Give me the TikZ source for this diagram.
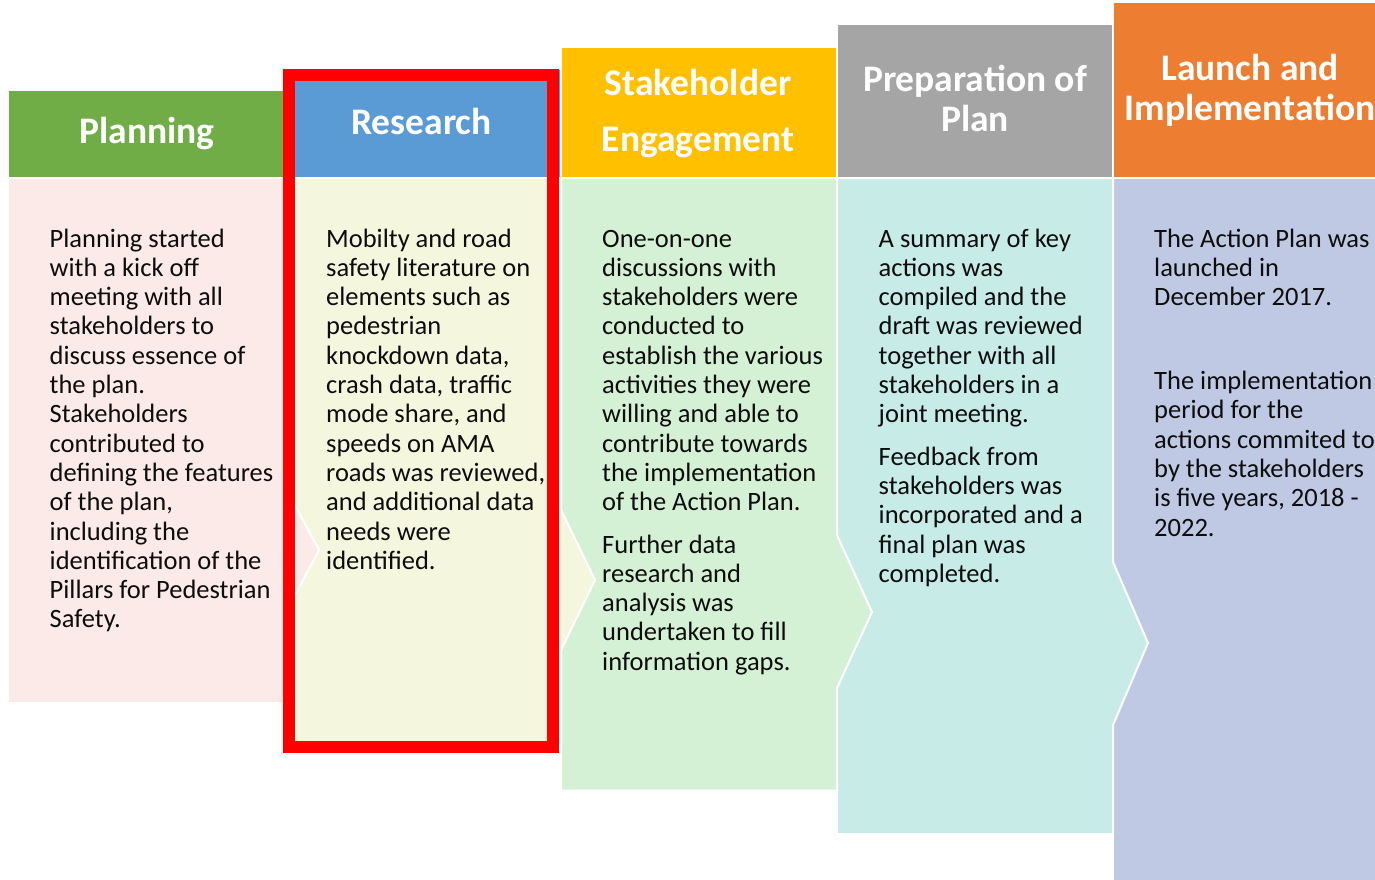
\documentclass[tikz,border=0pt]{standalone}
\usepackage{fontspec}
\setmainfont{Carlito}
\definecolor{hPlan}{HTML}{70AD47}
\definecolor{hRes}{HTML}{5B9BD5}
\definecolor{hStake}{HTML}{FFC000}
\definecolor{hPrep}{HTML}{A5A5A5}
\definecolor{hLaunch}{HTML}{ED7D31}
\definecolor{bPlan}{HTML}{FBEAE7}
\definecolor{bRes}{HTML}{F4F7DD}
\definecolor{bStake}{HTML}{D5F1D5}
\definecolor{bPrep}{HTML}{C7EBE6}
\definecolor{bLaunch}{HTML}{BFC9E3}
\definecolor{txt}{HTML}{0D0D0D}
\begin{document}
\begin{tikzpicture}[x=1pt,y=-1pt,
  bodyshape/.style={draw=white, line width=2pt, line join=miter},
  bodytext/.style={anchor=base west, inner sep=0pt, text=txt,
    font=\fontsize{26.5}{29.3}\selectfont},
  headtext/.style={anchor=base, inner sep=0pt, text=white,
    font=\fontsize{37.5}{40}\selectfont\bfseries}]
\useasboundingbox (0,0) rectangle (1375,879);
% headers
\fill[hPlan] (9,91) rectangle (284,176.5);
\fill[hRes] (286,70) rectangle (560,176.5);
\fill[hStake] (562,48) rectangle (836,176.5);
\fill[hPrep] (838,25) rectangle (1112,176.5);
\fill[hLaunch] (1114,3) rectangle (1390,176.5);
% bodies (right to left so tips overlap the next column)
\filldraw[bodyshape, fill=bLaunch] (1113,178) -- (1391,178) -- (1391,890) -- (1113,890) -- cycle;
\filldraw[bodyshape, fill=bPrep] (837,178) -- (1113,178) -- (1113,562) -- (1148,643) -- (1113,725) -- (1113,834) -- (837,834) -- cycle;
\filldraw[bodyshape, fill=bStake] (561,178) -- (837,178) -- (837,535) -- (872,612) -- (837,688) -- (837,790.5) -- (561,790.5) -- cycle;
\filldraw[bodyshape, fill=bRes] (285,178) -- (561,178) -- (561,510) -- (595,580) -- (561,650) -- (561,746) -- (285,746) -- cycle;
\filldraw[bodyshape, fill=bPlan] (8,178) -- (285,178) -- (285,487) -- (319,550) -- (285,614) -- (285,703) -- (8,703) -- cycle;
% red highlight frame
\draw[red, line width=12pt] (289,74.5) rectangle (553,747);
% header texts
\node[headtext] (tPlan) at (147,143) {Planning};
\node[headtext] (tRes) at (421.5,134) {Research};
\node[headtext] (tStake) at (698,95) {\begin{tabular}[t]{@{}c@{}}Stakeholder\\[16pt]Engagement\end{tabular}};
\node[headtext] (tPrep) at (975,91) {\begin{tabular}[t]{@{}c@{}}Preparation of\\Plan\end{tabular}};
\node[headtext] (tLaunch) at (1250,80) {\begin{tabular}[t]{@{}c@{}}Launch and\\Implementation\end{tabular}};
% body texts
\node[bodytext] (pPlan) at (49.5,247) {\begin{tabular}[t]{@{}l@{}}
Planning started\\
with a kick off\\
meeting with all\\
stakeholders to\\
discuss essence of\\
the plan.\\
Stakeholders\\
contributed to\\
defining the features\\
of the plan,\\
including the\\
identification of the\\
Pillars for Pedestrian\\
Safety.\end{tabular}};
\node[bodytext] (pRes) at (326,247) {\begin{tabular}[t]{@{}l@{}}
Mobilty and road\\
safety literature on\\
elements such as\\
pedestrian\\
knockdown data,\\
crash data, traffic\\
mode share, and\\
speeds on AMA\\
roads was reviewed,\\
and additional data\\
needs were\\
identified.\end{tabular}};
\node[bodytext] (pStake) at (602,247) {\begin{tabular}[t]{@{}l@{}}
One-on-one\\
discussions with\\
stakeholders were\\
conducted to\\
establish the various\\
activities they were\\
willing and able to\\
contribute towards\\
the implementation\\
of the Action Plan.\\[13pt]
Further data\\
research and\\
analysis was\\
undertaken to fill\\
information gaps.\end{tabular}};
\node[bodytext] (pPrep) at (878.5,247) {\begin{tabular}[t]{@{}l@{}}
A summary of key\\
actions was\\
compiled and the\\
draft was reviewed\\
together with all\\
stakeholders in a\\
joint meeting.\\[13pt]
Feedback from\\
stakeholders was\\
incorporated and a\\
final plan was\\
completed.\end{tabular}};
\node[bodytext] (pLaunch) at (1154,247) {\begin{tabular}[t]{@{}l@{}}
The Action Plan was\\
launched in\\
December 2017.\\[54.7pt]
The implementation\\
period for the\\
actions commited to\\
by the stakeholders\\
is five years, 2018 -\\
2022.\end{tabular}};
\end{tikzpicture}
\end{document}
